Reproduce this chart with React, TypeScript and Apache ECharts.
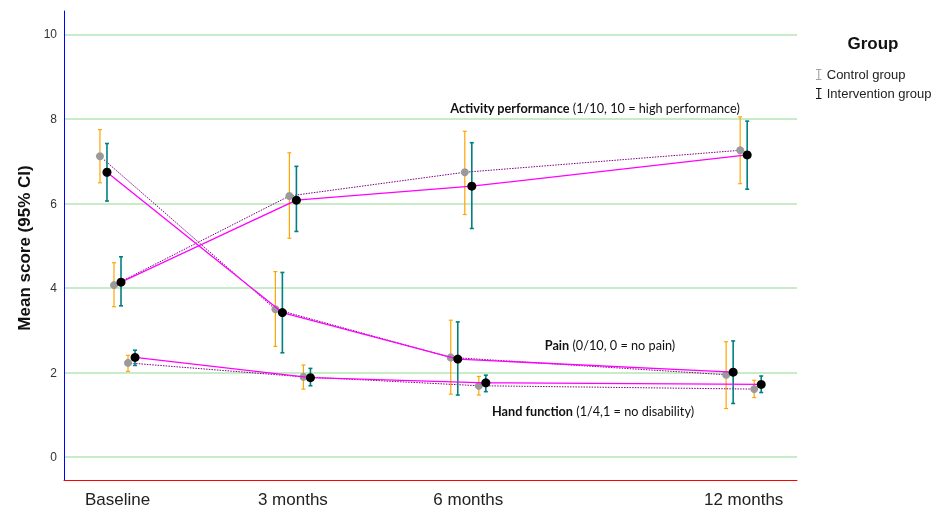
import React, { useEffect, useRef } from "react";
import * as echarts from "echarts";

const timeLabels = ["Baseline", "3 months", "6 months", "12 months"];

const painControlMean = [7.12, 3.5, 2.36, 1.95];
const painControlLow = [6.49, 2.62, 1.49, 1.15];
const painControlHigh = [7.75, 4.39, 3.24, 2.73];
const painInterventionMean = [6.74, 3.42, 2.32, 2.01];
const painInterventionLow = [6.06, 2.47, 1.47, 1.27];
const painInterventionHigh = [7.42, 4.37, 3.2, 2.75];

const activityControlMean = [4.07, 6.18, 6.74, 7.26];
const activityControlLow = [3.56, 5.18, 5.74, 6.47];
const activityControlHigh = [4.6, 7.2, 7.71, 8.05];
const activityInterventionMean = [4.14, 6.08, 6.41, 7.15];
const activityInterventionLow = [3.58, 5.34, 5.41, 6.34];
const activityInterventionHigh = [4.74, 6.88, 7.44, 7.95];

const handControlMean = [2.23, 1.9, 1.69, 1.61];
const handControlLow = [2.03, 1.61, 1.47, 1.41];
const handControlHigh = [2.41, 2.18, 1.91, 1.82];
const handInterventionMean = [2.36, 1.88, 1.76, 1.72];
const handInterventionLow = [2.17, 1.69, 1.55, 1.53];
const handInterventionHigh = [2.53, 2.1, 1.94, 1.92];

const groupNames = ["Control group", "Intervention group"];

const timePositions = [0, 1, 2, 3.57];
const FONT = "'Liberation Sans', Arial, sans-serif";
const NOTE_FONT = "Lato, 'Open Sans', sans-serif";

type Stats = { mean: number[]; low: number[]; high: number[] };

const measures: { ctrl: Stats; int: Stats; dodge: [number, number] }[] = [
  {
    ctrl: { mean: painControlMean, low: painControlLow, high: painControlHigh },
    int: { mean: painInterventionMean, low: painInterventionLow, high: painInterventionHigh },
    dodge: [-0.1, -0.06],
  },
  {
    ctrl: { mean: activityControlMean, low: activityControlLow, high: activityControlHigh },
    int: { mean: activityInterventionMean, low: activityInterventionLow, high: activityInterventionHigh },
    dodge: [-0.02, 0.02],
  },
  {
    ctrl: { mean: handControlMean, low: handControlLow, high: handControlHigh },
    int: { mean: handInterventionMean, low: handInterventionLow, high: handInterventionHigh },
    dodge: [0.06, 0.1],
  },
];

const legendIcon =
  "path://M0,0 L6,0 L6,1.2 L3.6,1.2 L3.6,10.8 L6,10.8 L6,12 L0,12 L0,10.8 L2.4,10.8 L2.4,1.2 L0,1.2 Z";

function errorBarSeries(name: string, stats: Stats, dodge: number, color: string, width: number, z: number) {
  return {
    name,
    type: "custom",
    z,
    silent: true,
    data: stats.mean.map((_, i) => [timePositions[i] + dodge, stats.low[i], stats.high[i]]),
    encode: { x: 0, y: [1, 2] },
    renderItem: (_params: any, api: any) => {
      const x = api.value(0);
      const top = api.coord([x, api.value(2)]);
      const bot = api.coord([x, api.value(1)]);
      const cx = top[0];
      const cap = 2;
      return {
        type: "group",
        children: [
          { type: "line", shape: { x1: cx, y1: top[1], x2: cx, y2: bot[1] }, style: { stroke: color, lineWidth: width } },
          { type: "line", shape: { x1: cx - cap, y1: top[1], x2: cx + cap, y2: top[1] }, style: { stroke: color, lineWidth: width } },
          { type: "line", shape: { x1: cx - cap, y1: bot[1], x2: cx + cap, y2: bot[1] }, style: { stroke: color, lineWidth: width } },
        ],
      };
    },
  };
}

function meanSeries(name: string, stats: Stats, dodge: number, control: boolean, z: number) {
  return {
    name,
    type: "line",
    z,
    silent: true,
    data: stats.mean.map((m, i) => [timePositions[i] + dodge, m]),
    symbol: "circle",
    symbolSize: control ? 8 : 9,
    showSymbol: true,
    itemStyle: { color: control ? "#9a9a9a" : "#000", borderWidth: 0 },
    lineStyle: control
      ? { color: "purple", width: 1, type: [1.5, 1.2] }
      : { color: "magenta", width: 1.3, type: "solid" },
  };
}

export default function App() {
  const ref = useRef<HTMLDivElement>(null);

  useEffect(() => {
    document.body.style.margin = "0";
    if (!ref.current) return;
    const chart = echarts.init(ref.current, undefined, { renderer: "svg" });

    const series: any[] = [];
    measures.forEach((m) => series.push(errorBarSeries(groupNames[0], m.ctrl, m.dodge[0], "orange", 1.2, 1)));
    measures.forEach((m) => series.push(meanSeries(groupNames[0], m.ctrl, m.dodge[0], true, 2)));
    measures.forEach((m) => series.push(errorBarSeries(groupNames[1], m.int, m.dodge[1], "teal", 1.6, 3)));
    measures.forEach((m) => series.push(meanSeries(groupNames[1], m.int, m.dodge[1], false, 4)));

    chart.setOption({
      animation: false,
      grid: { left: 64, right: 142, top: 11, bottom: 27.5 },
      xAxis: {
        type: "value",
        min: -0.305,
        max: 3.874,
        axisLine: { show: true, onZero: false, lineStyle: { color: "red", width: 1 } },
        axisTick: { show: false },
        splitLine: { show: false },
        axisLabel: {
          customValues: timePositions,
          formatter: (v: number) => {
            let best = 0;
            timePositions.forEach((p, i) => {
              if (Math.abs(p - v) < Math.abs(timePositions[best] - v)) best = i;
            });
            return timeLabels[best];
          },
          fontSize: 17,
          fontFamily: FONT,
          color: "#222222",
          margin: 11,
        },
      },
      yAxis: {
        type: "value",
        min: -0.54,
        max: 10.555,
        axisLine: { show: true, onZero: false, lineStyle: { color: "blue", width: 1 } },
        axisTick: { show: false },
        axisLabel: { showMinLabel: false, showMaxLabel: false, fontSize: 12, fontFamily: FONT, color: "#333", margin: 7 },
        splitLine: { show: true, showMinLine: false, showMaxLine: false, lineStyle: { color: "#b5e6b5", width: 1.5 } },
      },
      legend: {
        orient: "vertical",
        left: 811,
        top: 63,
        itemWidth: 6,
        itemHeight: 11,
        itemGap: 6,
        selectedMode: false,
        textStyle: { fontSize: 13, fontFamily: FONT, color: "#222222" },
        data: [
          { name: groupNames[0], icon: legendIcon, itemStyle: { color: "#a3a3a3", borderWidth: 0 } },
          { name: groupNames[1], icon: legendIcon, itemStyle: { color: "#111111", borderWidth: 0 } },
        ],
      },
      graphic: [
        { type: "text", x: 873, y: 43, style: { text: "Group", fontSize: 17, fontWeight: "bold", fontFamily: FONT, fill: "#111", align: "center", verticalAlign: "middle" } },
        { type: "text", x: 24, y: 248, rotation: Math.PI / 2, style: { text: "Mean score (95% CI)", fontSize: 17, fontWeight: "bold", fontFamily: FONT, fill: "#111", align: "center", verticalAlign: "middle" } },
        { type: "text", x: 595, y: 108, style: { text: "{b|Activity performance} (1/10, 10 = high performance)", fontSize: 12.7, fontFamily: NOTE_FONT, fill: "#111", align: "center", verticalAlign: "middle", rich: { b: { fontSize: 12.7, fontFamily: NOTE_FONT, fontWeight: "bold", fill: "#111" } } } },
        { type: "text", x: 610, y: 345, style: { text: "{b|Pain} (0/10, 0 = no pain)", fontSize: 12.7, fontFamily: NOTE_FONT, fill: "#111", align: "center", verticalAlign: "middle", rich: { b: { fontSize: 12.7, fontFamily: NOTE_FONT, fontWeight: "bold", fill: "#111" } } } },
        { type: "text", x: 593, y: 411, style: { text: "{b|Hand function} (1/4,1 = no disability)", fontSize: 12.7, fontFamily: NOTE_FONT, fill: "#111", align: "center", verticalAlign: "middle", rich: { b: { fontSize: 12.7, fontFamily: NOTE_FONT, fontWeight: "bold", fill: "#111" } } } },
      ],
      series,
    });
    return () => chart.dispose();
  }, []);

  return <div ref={ref} style={{ width: 939, height: 508, position: "fixed", left: 0, top: 0 }} />;
}
